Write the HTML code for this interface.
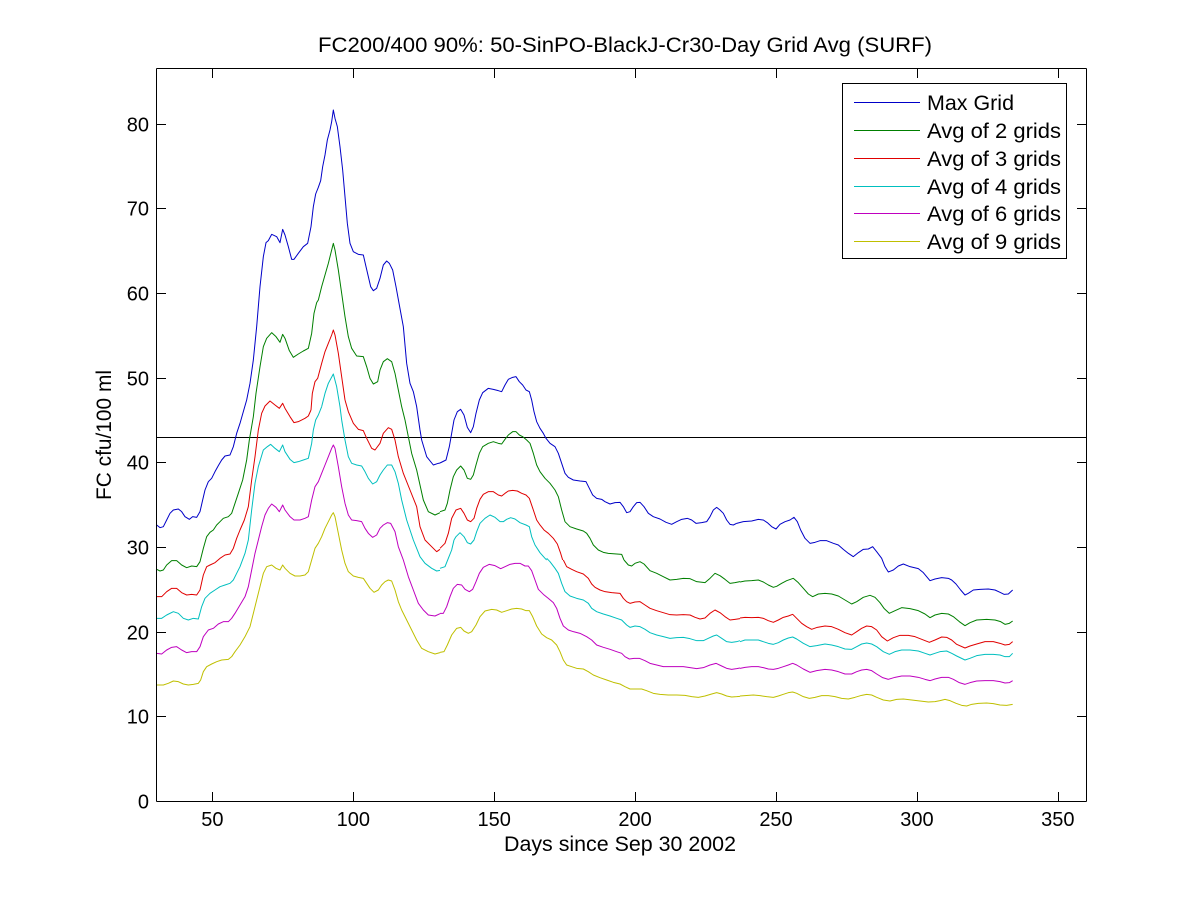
<!DOCTYPE html>
<html>
<head>
<meta charset="utf-8">
<style>
html,body{margin:0;padding:0;background:#fff;}
svg{display:block;}
text{font-family:"Liberation Sans",Arial,sans-serif;fill:#000;}
polyline{fill:none;stroke-width:1;vector-effect:non-scaling-stroke;stroke-linejoin:round;}
.b{stroke:#0000c8}
.g{stroke:#007f00}
.r{stroke:#e00000}
.c{stroke:#00bfbf}
.m{stroke:#bf00bf}
.y{stroke:#bfbf00}
.ax line{stroke:#000;stroke-width:1;}
</style>
</head>
<body>
<svg width="1200" height="901" viewBox="0 0 1200 901" xmlns="http://www.w3.org/2000/svg">
<rect x="0" y="0" width="1200" height="901" fill="#fff"/>

<!-- Title -->
<text x="318" y="52" font-size="21" textLength="614" lengthAdjust="spacingAndGlyphs">FC200/400 90%: 50-SinPO-BlackJ-Cr30-Day Grid Avg (SURF)</text>

<!-- Horizontal reference line at 43 -->
<line x1="156.5" y1="437.5" x2="1086.5" y2="437.5" stroke="#000" stroke-width="1"/>

<!-- Data: region G6 (150,400) -->
<g transform="translate(150,400) scale(0.333333)">
<polyline class="b" points="20,375 30,383 40,380 50,360 60,340 70,330 85,327 95,335 105,350 118,358 128,350 140,352 150,335 158,300 165,270 175,245 185,235 195,215 205,197 215,180 225,168 240,165 250,140 260,100 270,70 280,35 290,0"/>
<polyline class="b" points="815,120 830,170 850,195 865,190 870,189"/>
<polyline class="g" points="20,508 30,513 40,510 50,495 65,482 80,482 95,495 110,503 125,498 140,500 150,485 160,445 170,410 180,397 190,390 200,375 210,365 220,355 235,350 245,340 255,310 265,280 278,240 290,180 298,120"/>
<polyline class="g" points="765,60 775,110 785,160 800,210 810,255 820,300 835,335 855,345 870,338"/>
<polyline class="r" points="20,590 35,590 50,575 65,565 80,565 95,578 110,585 125,583 140,585 150,570 160,525 170,500 180,495 195,488 210,475 225,465 240,462 250,445 260,415 270,390 283,360 295,320 305,240 315,170 325,90 335,40 345,18 360,3 375,15 388,25 398,10 405,25 420,50 432,68 445,65 465,55 475,48 483,30"/>
<polyline class="r" points="585,0 595,35 610,70 625,88 640,92 650,115 665,145 675,150 690,130 700,100 715,83 725,88 735,120 745,170 760,220 780,270 800,320 810,380 825,420 845,440 860,455 870,448"/>
<polyline class="c" points="20,655 35,655 50,645 70,635 85,640 100,655 115,660 130,655 145,657 155,620 165,595 180,580 195,570 210,560 225,555 240,550 250,540 260,520 270,500 285,460 295,420 305,330 315,250 325,200 340,150 352,140 362,133 375,145 388,155 398,135 405,155 420,178 432,188 445,185 460,180 475,175 485,130 490,90 497,60 505,45 515,20"/>
<polyline class="c" points="575,60 585,120 595,170 605,190 620,195 635,198 645,215 655,235 668,252 680,245 690,225 700,210 712,195 725,195 735,215 745,250 755,300 770,360 790,420 810,470 825,490 845,505 860,513 870,511"/>
<polyline class="m" points="20,760 35,762 50,750 65,742 80,740 95,750 110,758 125,755 140,755 150,740 160,710 175,690 190,685 205,672 220,665 235,665 245,655 255,640 270,615 285,590 295,560 305,510 315,460 325,420 335,380 345,345 355,325 365,312 378,322 388,335 398,315 405,330 420,350 432,360 450,360 465,355 475,350 485,300 495,260 505,245 515,220 525,195 535,170 545,145 550,135 555,145 565,200 575,260 585,310 595,345 605,360 620,362 635,365 645,385 655,400 668,412 680,405 690,385 700,375 712,368 722,370 735,395 745,440 760,480 775,530 790,570 805,610 820,630 835,645 855,648 870,641"/>
<polyline class="y" points="20,855 40,855 55,850 70,843 85,845 100,852 115,855 130,853 145,850 152,840 160,815 170,800 185,792 200,785 215,780 235,778 245,770 255,755 270,735 285,710 300,680 310,640 320,600 330,560 340,520 350,500 365,495 378,505 390,510 398,495 405,505 420,520 435,528 450,528 465,525 475,515 485,480 495,445 505,430 515,410 525,385 535,365 545,345 550,338 555,350 565,400 575,450 585,490 595,515 610,528 625,532 640,535 650,550 660,565 672,577 685,570 695,555 705,545 715,540 725,543 735,570 745,605 755,630 770,660 785,690 800,720 815,745 835,755 855,762 870,758"/>
</g>

<!-- Data: region G5 (150,100) -->
<g transform="translate(150,100) scale(0.333333)">
<polyline class="b" points="290,900 300,850 310,780 320,680 330,560 340,470 348,428 355,422 365,403 380,410 390,428 398,388 405,405 415,440 425,478 432,478 445,460 460,440 473,430 483,380 490,320 497,282 505,262 512,242 518,200 525,165 532,120 540,90 545,65 550,30 555,55 562,80 570,140 578,210 585,290 592,370 600,430 610,455 625,463 640,465 648,500 655,530 662,560 670,572 680,565 690,535 700,495 710,483 718,490 728,510 738,560 748,615 760,680 770,790 780,850 790,875 800,920 810,990 815,1020"/>
<polyline class="g" points="298,1020 310,950 318,880 330,800 340,740 350,715 365,698 378,710 390,727 398,703 405,715 418,752 430,772 445,762 460,753 475,745 485,700 492,640 500,608 505,600 515,560 525,525 535,490 545,450 550,430 555,450 565,510 575,580 585,650 595,710 605,745 620,768 640,770 650,800 660,835 670,852 683,845 690,810 700,785 712,776 725,785 735,820 745,870 755,920 765,960"/>
<polyline class="r" points="483,930 487,880 495,845 503,835 515,790 525,755 535,730 545,705 550,690 555,705 565,760 575,830 585,900"/>
<polyline class="c" points="515,920 525,880 535,850 550,822 560,860 570,920 575,960"/>
</g>

<!-- Data: region G7 (440,340) -->
<g transform="translate(440,340) scale(0.333333)">
<polyline class="b" points="0,369 18,360 28,320 35,280 42,240 52,215 62,208 72,225 82,262 92,278 100,260 108,220 118,180 128,158 145,145 160,148 175,152 185,155 195,135 205,118 218,112 228,110 238,125 248,135 258,150 268,155 275,180 282,215 290,245 300,265 310,280 318,295 330,310 345,320 355,340 365,370 375,400 385,412 400,420 420,423 438,425 448,445 458,465 470,475 485,478 495,485 510,492 525,488 540,487 550,500 560,518 570,515 580,500 590,488 600,487 612,500 625,520 640,530 660,537 678,547 695,553 710,545 725,538 742,535 755,540 768,550 785,548 800,545 810,530 820,510 830,502 840,510 850,520 860,540 870,553 880,555 890,550"/>
<polyline class="g" points="0,515 15,510 22,490 30,450 40,410 50,390 62,378 72,390 82,415 92,418 100,405 108,375 118,340 128,320 145,310 160,305 175,310 185,312 195,298 205,285 218,275 228,275 238,285 248,290 260,300 270,310 280,340 290,375 300,395 315,415 330,430 345,450 355,470 365,510 375,545 390,560 410,567 430,573 440,580 450,595 460,615 475,630 490,637 505,640 530,642 545,643 552,660"/>
<polyline class="r" points="0,625 15,610 25,580 35,535 48,510 62,505 72,520 82,540 92,545 102,535 110,505 120,478 130,463 145,455 160,455 175,465 185,468 195,460 205,453 218,451 232,453 245,460 258,465 268,475 280,510 290,540 300,555 312,570 325,580 340,595 352,612 362,640 368,660"/>
<polyline class="c" points="42,600 48,590 60,578 72,590 82,608 92,612 102,600 110,575 120,550 135,535 150,525 165,532 180,545 190,545 200,538 212,533 225,537 240,548 258,555 268,560 275,590 285,615 300,638 315,655 320,660"/>
</g>

<!-- Data: region G8 (440,540) -->
<g transform="translate(440,540) scale(0.333333)">
<polyline class="g" points="552,60 565,75 575,78 585,70 600,65 612,72 630,92 650,100 670,110 690,120 710,118 730,115 750,116 770,125 795,128 810,115 825,100 840,107 855,118 870,130 885,128 900,125"/>
<polyline class="r" points="370,60 380,80 395,88 410,95 430,102 445,115 455,132 465,142 480,150 495,155 515,158 540,160 550,175 560,185 570,190 585,186 600,185 615,195 630,205 650,212 670,218 690,224 710,225 730,224 750,225 765,232 780,237 795,234 810,220 825,210 840,218 855,230 870,240 885,238 900,236"/>
<polyline class="c" points="0,85 15,80 25,55 35,30 42,0"/>
<polyline class="c" points="320,55 330,65 345,85 355,100 365,130 375,155 390,168 410,175 430,180 445,190 455,205 470,215 490,222 510,228 530,235 545,240 560,255 570,262 585,258 600,260 615,268 630,278 650,285 670,290 690,295 710,293 730,292 750,296 770,302 790,302 805,295 820,288 830,285 845,295 860,305 875,307 890,305 900,302"/>
<polyline class="m" points="0,220 10,220 20,200 30,170 40,145 52,133 65,135 75,148 88,155 98,148 108,125 118,100 130,82 148,73 165,77 182,86 195,80 210,73 225,70 240,70 255,78 265,78 275,92 285,120 295,148 310,163 325,175 340,188 350,205 360,235 370,258 385,270 400,275 420,280 440,290 455,300 470,315 490,322 510,328 530,335 545,340 555,350 568,357 582,355 598,355 615,362 630,370 650,375 670,380 690,380 710,380 730,380 750,383 770,386 790,383 810,375 828,370 845,378 860,385 875,388 890,386 900,384"/>
<polyline class="y" points="0,337 12,335 22,315 35,285 50,265 62,262 72,273 85,280 95,275 108,255 120,230 135,213 155,208 170,210 185,217 200,212 215,207 230,205 245,207 258,212 268,212 278,230 290,258 305,282 320,293 335,300 350,315 360,335 370,360 380,375 395,380 410,385 430,387 445,395 460,405 480,413 500,420 520,427 540,432 555,440 570,447 590,447 605,447 620,452 640,460 660,463 685,465 710,465 735,466 755,470 775,472 795,468 815,462 830,458 845,462 860,468 875,471 890,470 900,469"/>
</g>

<!-- Data: region G9 (730,490) -->
<g transform="translate(730,490) scale(0.333333)">
<polyline class="b" points="20,100 40,95 65,93 85,88 100,90 112,98 125,110 138,117 150,103 165,95 180,90 192,82 202,95 212,120 225,145 240,160 255,157 270,152 290,152 310,160 325,165 340,178 355,190 370,200 385,188 400,178 415,177 428,170 440,185 455,205 465,230 475,246 490,240 505,228 520,222 540,230 565,236 580,248 590,260 600,272 615,267 635,263 655,265 665,270 678,282 692,300 705,315 715,310 730,300 750,298 775,297 795,300 810,307 822,313 835,312 848,300"/>
<polyline class="g" points="30,276 45,273 65,272 85,270 100,276 115,285 130,292 140,289 155,280 170,272 190,265 205,278 220,295 235,312 248,320 265,312 285,310 305,312 325,318 345,330 365,342 380,335 400,322 420,316 435,322 450,338 462,355 478,370 495,362 515,353 540,356 565,362 585,372 600,383 615,375 635,370 655,372 670,380 688,395 705,407 720,398 740,390 770,388 795,390 812,395 825,403 838,400 848,393"/>
<polyline class="r" points="30,384 45,382 65,383 85,382 100,385 115,392 130,397 145,390 160,382 175,378 188,373 200,385 215,400 230,410 245,418 262,412 285,408 305,410 325,418 345,428 365,435 380,425 395,415 410,408 425,410 440,420 455,440 472,453 490,443 510,436 535,436 555,440 575,448 598,457 615,450 635,441 650,442 665,450 680,463 705,474 720,468 740,462 765,455 790,455 810,460 825,465 838,463 848,455"/>
<polyline class="c" points="30,455 45,450 65,450 85,450 100,455 115,460 130,463 145,458 160,450 175,444 188,441 200,447 220,460 240,470 260,467 285,462 305,465 325,470 345,477 365,478 380,470 395,462 410,459 425,462 440,470 460,485 478,493 495,485 515,480 540,480 565,483 585,490 600,495 615,490 630,485 650,483 665,490 680,498 705,510 720,505 740,497 765,493 790,493 810,495 825,500 838,500 848,490"/>
<polyline class="m" points="30,535 45,532 65,530 85,530 100,533 115,537 130,538 145,535 160,530 175,525 188,520 200,525 220,537 240,547 260,542 285,538 305,540 325,545 345,552 365,552 380,545 395,540 410,538 425,542 440,552 458,563 475,568 495,562 515,558 540,558 565,562 585,568 600,572 615,567 635,562 655,562 670,568 688,578 705,583 720,578 740,573 765,572 790,572 810,575 825,579 838,578 848,572"/>
<polyline class="y" points="30,618 45,617 70,615 90,617 110,620 130,622 145,618 160,613 175,608 188,606 200,610 220,620 238,625 255,622 275,617 295,617 315,620 335,625 355,627 375,622 395,616 410,613 425,615 440,622 460,630 480,633 500,628 520,627 545,630 570,633 595,636 615,635 630,632 645,628 660,632 678,640 695,646 710,648 725,643 745,640 770,639 790,641 810,645 830,646 848,643"/>
</g>

<!-- Axes box and ticks -->
<g class="ax">
<line x1="156.5" y1="68.5" x2="1086.5" y2="68.5"/>
<line x1="156.5" y1="801.5" x2="1086.5" y2="801.5"/>
<line x1="156.5" y1="68.5" x2="156.5" y2="801.5"/>
<line x1="1086.5" y1="68.5" x2="1086.5" y2="801.5"/>
<!-- x ticks bottom & top -->
<line x1="212.5" y1="801.5" x2="212.5" y2="792"/><line x1="212.5" y1="68.5" x2="212.5" y2="78"/>
<line x1="353.5" y1="801.5" x2="353.5" y2="792"/><line x1="353.5" y1="68.5" x2="353.5" y2="78"/>
<line x1="494.5" y1="801.5" x2="494.5" y2="792"/><line x1="494.5" y1="68.5" x2="494.5" y2="78"/>
<line x1="635.5" y1="801.5" x2="635.5" y2="792"/><line x1="635.5" y1="68.5" x2="635.5" y2="78"/>
<line x1="776.5" y1="801.5" x2="776.5" y2="792"/><line x1="776.5" y1="68.5" x2="776.5" y2="78"/>
<line x1="917.5" y1="801.5" x2="917.5" y2="792"/><line x1="917.5" y1="68.5" x2="917.5" y2="78"/>
<line x1="1058.5" y1="801.5" x2="1058.5" y2="792"/><line x1="1058.5" y1="68.5" x2="1058.5" y2="78"/>
<!-- y ticks left & right -->
<line x1="156.5" y1="716.5" x2="166" y2="716.5"/><line x1="1086.5" y1="716.5" x2="1077" y2="716.5"/>
<line x1="156.5" y1="632.5" x2="166" y2="632.5"/><line x1="1086.5" y1="632.5" x2="1077" y2="632.5"/>
<line x1="156.5" y1="547.5" x2="166" y2="547.5"/><line x1="1086.5" y1="547.5" x2="1077" y2="547.5"/>
<line x1="156.5" y1="462.5" x2="166" y2="462.5"/><line x1="1086.5" y1="462.5" x2="1077" y2="462.5"/>
<line x1="156.5" y1="378.5" x2="166" y2="378.5"/><line x1="1086.5" y1="378.5" x2="1077" y2="378.5"/>
<line x1="156.5" y1="293.5" x2="166" y2="293.5"/><line x1="1086.5" y1="293.5" x2="1077" y2="293.5"/>
<line x1="156.5" y1="208.5" x2="166" y2="208.5"/><line x1="1086.5" y1="208.5" x2="1077" y2="208.5"/>
<line x1="156.5" y1="124.5" x2="166" y2="124.5"/><line x1="1086.5" y1="124.5" x2="1077" y2="124.5"/>
</g>

<!-- X tick labels -->
<g font-size="20" text-anchor="middle">
<text x="212.4" y="826">50</text>
<text x="353.3" y="826">100</text>
<text x="494.2" y="826">150</text>
<text x="635.1" y="826">200</text>
<text x="776" y="826">250</text>
<text x="916.9" y="826">300</text>
<text x="1057.8" y="826">350</text>
</g>

<!-- Y tick labels -->
<g font-size="20" text-anchor="end">
<text x="149" y="808.5">0</text>
<text x="149" y="723.5">10</text>
<text x="149" y="639.5">20</text>
<text x="149" y="554.5">30</text>
<text x="149" y="469.5">40</text>
<text x="149" y="385.5">50</text>
<text x="149" y="300.5">60</text>
<text x="149" y="215.5">70</text>
<text x="149" y="131.5">80</text>
</g>

<!-- Axis labels -->
<text x="504" y="851" font-size="21" textLength="232" lengthAdjust="spacingAndGlyphs">Days since Sep 30 2002</text>
<text transform="translate(111,500) rotate(-90)" x="0" y="0" font-size="21" textLength="130" lengthAdjust="spacingAndGlyphs">FC cfu/100 ml</text>

<!-- Legend -->
<rect x="842.5" y="83.5" width="224" height="175" fill="#fff" stroke="#000" stroke-width="1"/>
<line x1="854" y1="102.5" x2="920" y2="102.5" stroke="#0000c8"/>
<line x1="854" y1="130.5" x2="920" y2="130.5" stroke="#007f00"/>
<line x1="854" y1="158.5" x2="920" y2="158.5" stroke="#e00000"/>
<line x1="854" y1="186.5" x2="920" y2="186.5" stroke="#00bfbf"/>
<line x1="854" y1="213.5" x2="920" y2="213.5" stroke="#bf00bf"/>
<line x1="854" y1="241.5" x2="920" y2="241.5" stroke="#bfbf00"/>
<g font-size="21">
<text x="927" y="110" textLength="87" lengthAdjust="spacingAndGlyphs">Max Grid</text>
<text x="927" y="138" textLength="134" lengthAdjust="spacingAndGlyphs">Avg of 2 grids</text>
<text x="927" y="166" textLength="134" lengthAdjust="spacingAndGlyphs">Avg of 3 grids</text>
<text x="927" y="194" textLength="134" lengthAdjust="spacingAndGlyphs">Avg of 4 grids</text>
<text x="927" y="221" textLength="134" lengthAdjust="spacingAndGlyphs">Avg of 6 grids</text>
<text x="927" y="249" textLength="134" lengthAdjust="spacingAndGlyphs">Avg of 9 grids</text>
</g>
</svg>
</body>
</html>
